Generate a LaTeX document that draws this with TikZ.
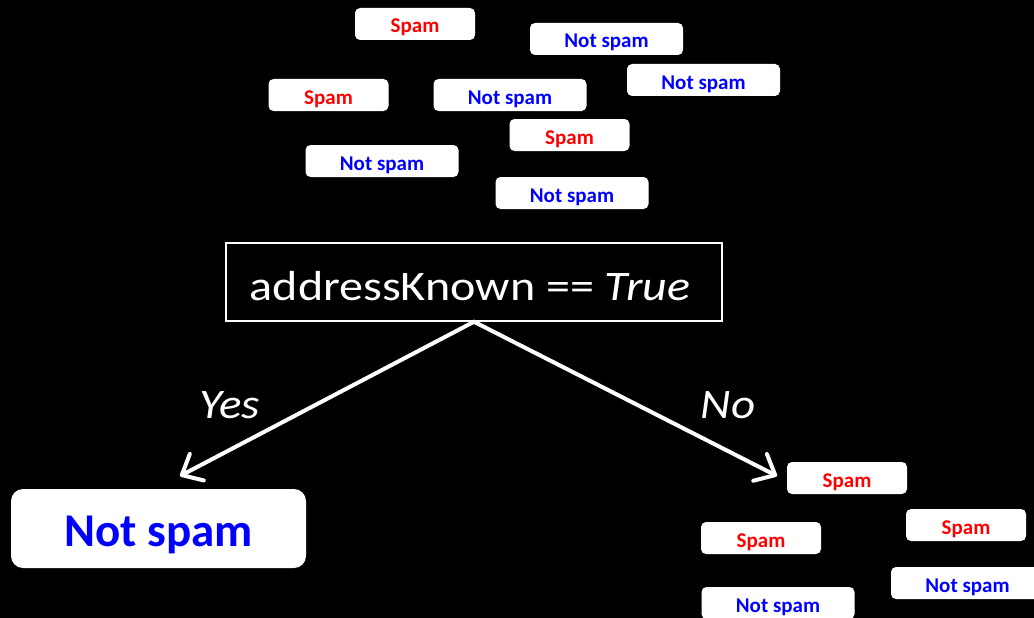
\documentclass[tikz,border=0pt]{standalone}
\usepackage{fontspec}
\setmainfont{Carlito}
\usetikzlibrary{arrows.meta}
\newcommand{\widen}[2][1.12]{\scalebox{#1}[1]{#2}}
\begin{document}
\begin{tikzpicture}[x=1pt,y=-1pt,
  tag/.style={fill=white, rounded corners=5pt, minimum height=32pt, inner sep=0pt,
    text height=18pt, text depth=0pt, font=\fontsize{21}{21}\selectfont\bfseries},
  spam/.style={tag, text=red, minimum width=120pt},
  ham/.style={tag, text=blue, minimum width=153pt},
  branch/.style={draw=white, line width=4pt, line cap=round,
    -{Straight Barb[length=17pt, width=30pt, line cap=round, line join=round]}},
  answer/.style={anchor=base, text=white, inner sep=0pt, font=\fontsize{42}{42}\selectfont\itshape}]
  % background and page frame
  \fill[black] (0,0) rectangle (1034,618);
  \clip (0,0) rectangle (1034,618);

  % unsorted training examples
  \node[spam] (s1) at (415,24)    {Spam};
  \node[ham]  (h1) at (606.5,39)  {Not spam};
  \node[ham]  (h2) at (703.5,80)  {Not spam};
  \node[spam] (s2) at (328.5,95)  {Spam};
  \node[ham]  (h3) at (510,95)    {Not spam};
  \node[spam] (s3) at (569.5,135) {Spam};
  \node[ham]  (h4) at (382,161)   {Not spam};
  \node[ham]  (h5) at (572,193)   {Not spam};

  % decision test
  \node[draw=white, line width=1.5pt, minimum width=496pt, minimum height=78pt, inner sep=0pt,
        text=white, text height=37.4pt, text depth=0pt,
        font=\fontsize{42}{42}\selectfont] (test) at (474,282)
        {\widen[1.145]{addressKnown == \textit{True}}\hspace*{8pt}};

  % leaf for the "yes" branch
  \node[fill=white, rounded corners=12pt, minimum width=295pt, minimum height=79pt, inner sep=0pt,
        text=blue, text height=36pt, text depth=0pt,
        font=\fontsize{47}{47}\selectfont\bfseries] (leaf) at (158.5,528.5) {Not spam};

  % examples reaching the "no" branch
  \node[spam] (s4) at (847,478)   {Spam};
  \node[spam] (s5) at (966,525)   {Spam};
  \node[spam] (s6) at (761,538)   {Spam};
  \node[ham]  (h6) at (967.5,583) {Not spam};
  \node[ham]  (h7) at (778,603)   {Not spam};

  % branches
  \coordinate (yesend) at (180,476);
  \coordinate (noend) at (777,476);
  \draw[branch] (test.south) -- (yesend);
  \draw[branch] (test.south) -- (noend);
  \node[answer] (yes) at (230,418) {\widen{Yes}};
  \node[answer] (no) at (728,418) {\widen{No}};
\end{tikzpicture}
\end{document}
